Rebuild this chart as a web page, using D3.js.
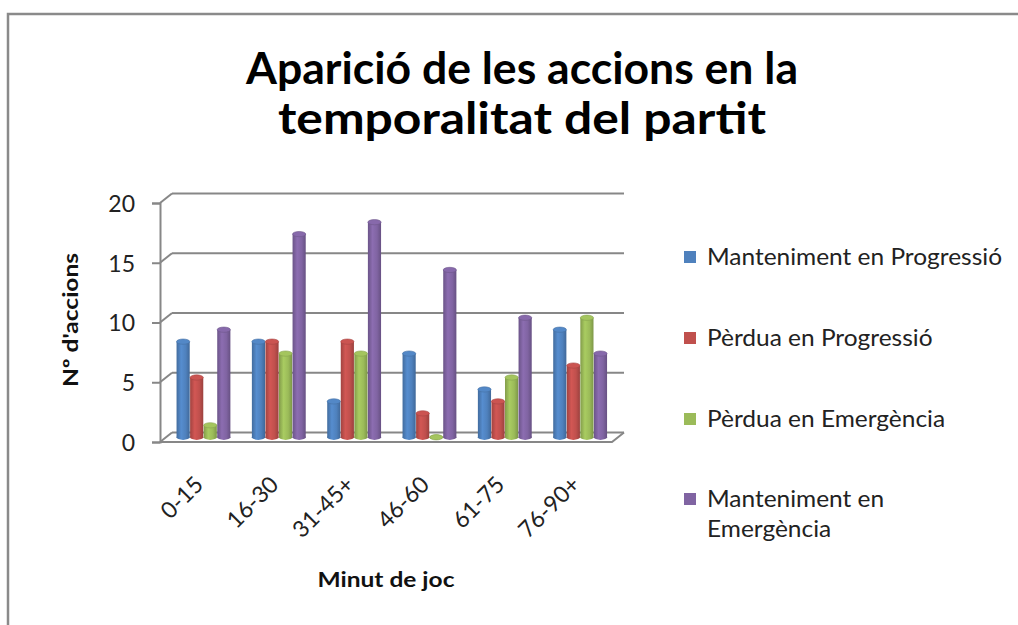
<!DOCTYPE html>
<html><head><meta charset="utf-8">
<script src="https://cdn.jsdelivr.net/npm/d3@7"></script>
<style>body{margin:0;background:#fff;overflow:hidden}</style>
</head><body>
<svg id="c" width="1018" height="625"></svg>
<script>
// ---- data ----
const categories = ["0-15","16-30","31-45+","46-60","61-75","76-90+"];
const seriesNames = ["Manteniment en Progressió","Pèrdua en Progressió","Pèrdua en Emergència","Manteniment en Emergència"];
const mantenimentProgressio = [8,8,3,7,4,9];
const perduaProgressio = [5,8,8,2,3,6];
const perduaEmergencia = [1,7,7,0,5,10];
const mantenimentEmergencia = [9,17,18,14,10,7];
const yTicks = [0,5,10,15,20];
const titleLines = ["Aparició de les accions en la","temporalitat del partit"];
const xTitle = "Minut de joc";
const yTitle = "Nº d'accions";

const seriesValues = [mantenimentProgressio, perduaProgressio, perduaEmergencia, mantenimentEmergencia];
const colors = ["#4F81BD","#C0504D","#9BBB59","#8064A2"];

const svg = d3.select("#c");
const FONT = "Lato, 'Open Sans', sans-serif";
const gridCol = "#878787";

// outer border
svg.append("path").attr("d","M8,640 L8,14 L1030,14").attr("fill","none")
  .attr("stroke","#8a8a8a").attr("stroke-width",2.5);

// ---- geometry ----
const DX = 12, DY = -9.5;
const yF = d3.scaleLinear().domain([0,20]).range([442,203]);
const xF0 = 160, xF1 = 612;
const x0 = d3.scaleBand().domain(categories).range([xF0+DX/2, xF1+DX/2]).paddingInner(0.28).paddingOuter(0.14);
const x1 = d3.scaleBand().domain(d3.range(seriesNames.length)).range([0, x0.bandwidth()]);

// walls / grid
const g = svg.append("g");
yTicks.forEach(t => {
  g.append("line").attr("x1",xF0+DX).attr("x2",xF1+DX).attr("y1",yF(t)+DY).attr("y2",yF(t)+DY)
    .attr("stroke",gridCol).attr("stroke-width",2);
  g.append("line").attr("x1",xF0).attr("x2",xF0+DX).attr("y1",yF(t)).attr("y2",yF(t)+DY)
    .attr("stroke",gridCol).attr("stroke-width",2);
});
// floor
g.append("path").attr("d",`M${xF0},${yF(0)} L${xF1},${yF(0)} L${xF1+DX},${yF(0)+DY}`)
  .attr("fill","none").attr("stroke",gridCol).attr("stroke-width",2);

// y axis
const yAxis = d3.axisLeft(yF).tickValues(yTicks).tickSize(8).tickPadding(17);
const ya = svg.append("g").attr("transform",`translate(${xF0},0)`).call(yAxis);
ya.select(".domain").attr("stroke",gridCol).attr("stroke-width",2);
ya.selectAll(".tick line").attr("stroke",gridCol).attr("stroke-width",2);
ya.selectAll(".tick text").attr("font-family",FONT).attr("font-size",23).attr("fill","#222")
  .attr("dy","0.36em");

// gradients
const defs = svg.append("defs");
colors.forEach((c,i) => {
  const base = d3.color(c);
  const gr = defs.append("linearGradient").attr("id","cyl"+i).attr("x1","0").attr("x2","1").attr("y1","0").attr("y2","0");
  gr.append("stop").attr("offset","0%").attr("stop-color",base.darker(0.5));
  gr.append("stop").attr("offset","35%").attr("stop-color",base.brighter(0.25));
  gr.append("stop").attr("offset","70%").attr("stop-color",base);
  gr.append("stop").attr("offset","100%").attr("stop-color",base.darker(0.6));
});

// bars (cylinders)
const bars = svg.append("g");
categories.forEach((cat,ci) => {
  seriesValues.forEach((vals,si) => {
    const v = vals[ci];
    const bw = x1.bandwidth() - 0.4;
    const bx = x0(cat) + x1(si);
    const yb = yF(0) + DY/2;
    const yt = yF(v) + DY/2;
    const ry = bw*0.2;
    const gb = bars.append("g");
    gb.append("ellipse").attr("cx",bx+bw/2).attr("cy",yb).attr("rx",bw/2).attr("ry",ry).attr("fill",`url(#cyl${si})`);
    gb.append("rect").attr("x",bx).attr("y",yt).attr("width",bw).attr("height",Math.max(0,yb-yt)).attr("fill",`url(#cyl${si})`);
    gb.append("ellipse").attr("cx",bx+bw/2).attr("cy",yt).attr("rx",bw/2).attr("ry",ry)
      .attr("fill",d3.color(colors[si]).brighter(0.15)).attr("stroke",d3.color(colors[si]).darker(0.4)).attr("stroke-width",0.6);
  });
});

// x labels
const xl = svg.append("g");
categories.forEach(cat => {
  const ax = x0(cat) + x0.bandwidth()/2 + 1, ay = 486;
  xl.append("text").attr("transform",`translate(${ax},${ay}) rotate(-45)`)
    .attr("text-anchor","end").attr("font-family",FONT).attr("font-size",23).attr("fill","#222").text(cat);
});

// titles
titleLines.forEach((t,i) => {
  svg.append("text").attr("x",522).attr("y",[84,134][i]).attr("text-anchor","middle")
    .attr("font-family",FONT).attr("font-weight","bold").attr("font-size",44).attr("fill","#000")
    .attr("textLength",[552,488][i]).attr("lengthAdjust","spacingAndGlyphs").text(t);
});
svg.append("text").attr("x",386).attr("y",587).attr("text-anchor","middle")
  .attr("font-family",FONT).attr("font-weight","bold").attr("font-size",20).attr("fill","#111")
  .attr("textLength",137).attr("lengthAdjust","spacingAndGlyphs").text(xTitle);
svg.append("text").attr("transform","translate(78,320) rotate(-90)").attr("text-anchor","middle")
  .attr("font-family",FONT).attr("font-weight","bold").attr("font-size",20).attr("fill","#111")
  .attr("textLength",134).attr("lengthAdjust","spacingAndGlyphs").text(yTitle);

// legend
const legendRows = [[seriesNames[0]],[seriesNames[1]],[seriesNames[2]],["Manteniment en","Emergència"]];
const rowBase = [265,346,427,507];
const lg = svg.append("g");
legendRows.forEach((lines,i) => {
  lg.append("rect").attr("x",684).attr("y",rowBase[i]-14).attr("width",12).attr("height",12).attr("fill",colors[i]);
  lines.forEach((ln,j) => {
    lg.append("text").attr("x",707).attr("y",rowBase[i]+j*30).attr("font-family",FONT).attr("font-size",23)
      .attr("fill","#222").text(ln);
  });
});
// squeeze legend text horizontally to match narrow font look
const ref = lg.select("text").node().getComputedTextLength();
const factor = 295/ref;
lg.selectAll("text").each(function(){
  const w = this.getComputedTextLength();
  d3.select(this).attr("textLength",w*factor).attr("lengthAdjust","spacingAndGlyphs");
});
</script>
</body></html>
